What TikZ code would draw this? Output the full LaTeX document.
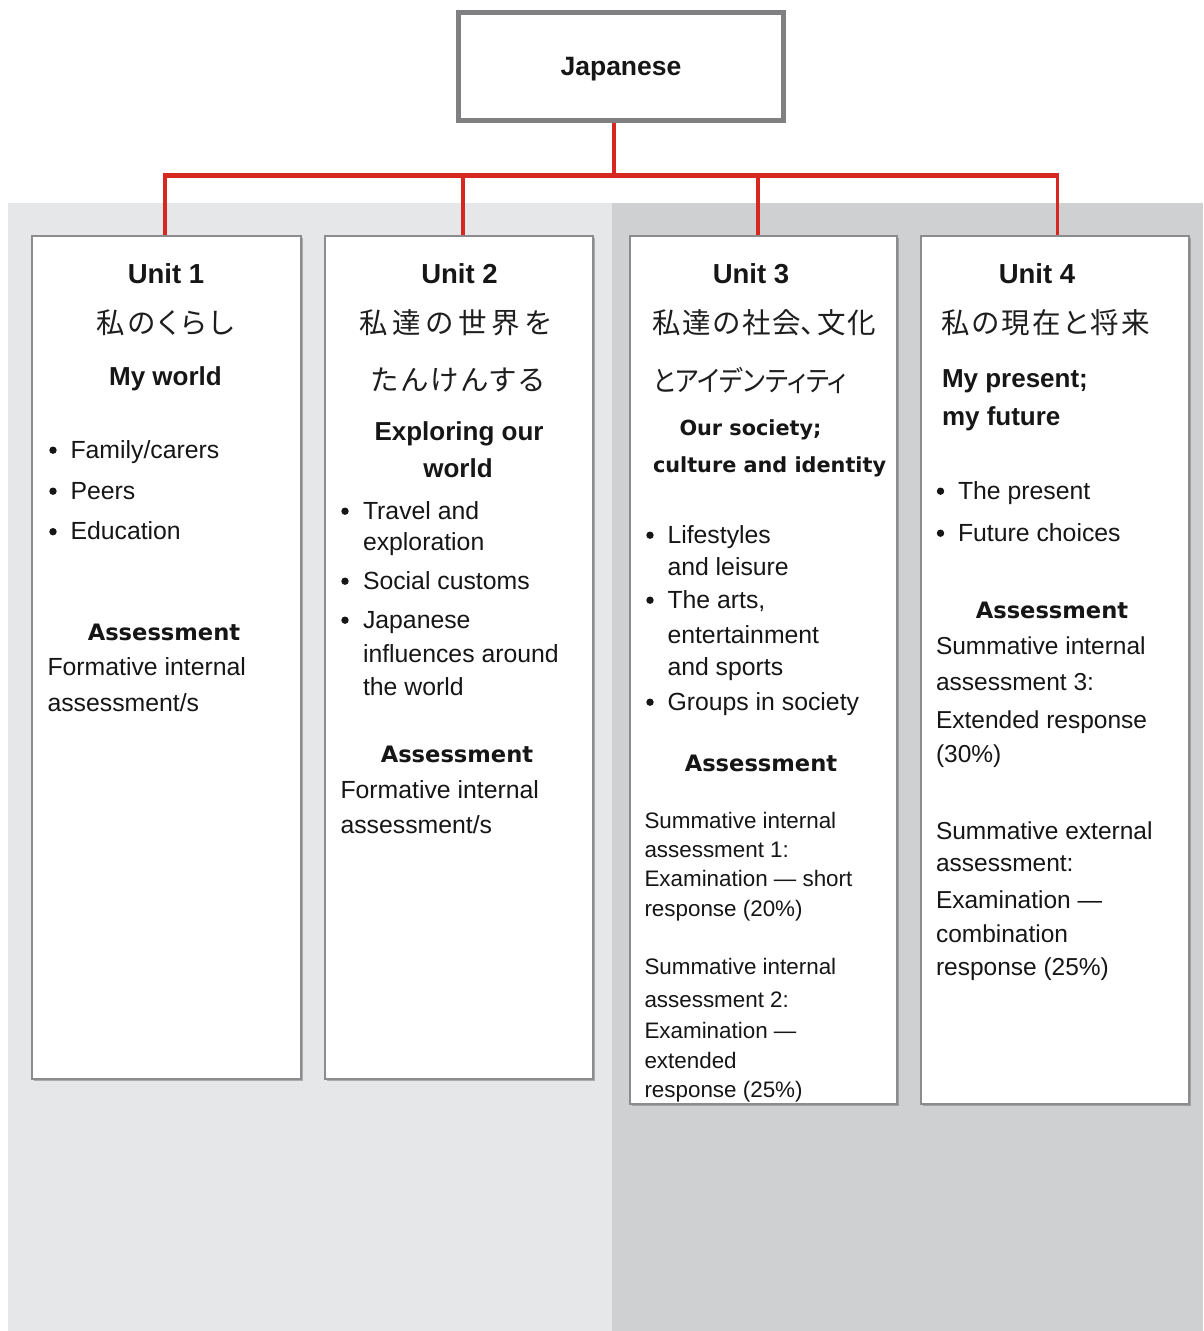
\documentclass[tikz,border=0pt]{standalone}
\usepackage{fontspec}
\usepackage{graphicx}
\usetikzlibrary{shadows}
\setmainfont{Liberation Sans}
\newfontfamily\dvfont{DejaVu Sans}
\newfontfamily\jpfont[RawFeature=+palt]{Noto Sans CJK JP}
\newcommand\setfs[1]{\fontsize{#1}{#1}\selectfont}
\newlength\jfitw
\newcommand\jfit[2]{\settowidth\jfitw{#2}\pgfmathsetmacro\jfitf{#1/\jfitw}\scalebox{\jfitf}[1]{#2}}
\definecolor{bgl}{RGB}{230,231,232}
\definecolor{bgr}{RGB}{207,208,210}
\definecolor{redcol}{RGB}{214,40,32}
\definecolor{topcol}{RGB}{128,128,131}
\definecolor{boxcol}{RGB}{140,140,142}
\definecolor{txtcol}{RGB}{22,22,22}
\definecolor{jpcol}{RGB}{30,30,30}
\tikzset{
  txt/.style={inner sep=0pt, outer sep=0pt, text=txtcol, font=\setfs{24.8}},
  lt/.style={txt, anchor=base west},
  bul/.style={circle, fill=txtcol, inner sep=0pt, minimum size=7.4pt, yshift=7.8pt},
  hd/.style={txt, anchor=base, font=\setfs{27.5}\bfseries},
  sub/.style={txt, font=\setfs{26}\bfseries},
  subdv/.style={txt, anchor=base west, font=\dvfont\setfs{20.8}\bfseries},
  asm/.style={txt, anchor=base, font=\dvfont\setfs{22.6}\bfseries},
  small/.style={txt, anchor=base west, font=\setfs{22.4}},
  mid/.style={txt, anchor=base west, font=\setfs{24.5}},
  jp/.style={txt, anchor=center, text=jpcol, font=\jpfont\setfs{28.5}},
  unitbox/.style={draw=boxcol, line width=1.5pt, fill=white, anchor=north west,
    inner sep=0pt,
    drop shadow={shadow xshift=2.2pt, shadow yshift=-2.5pt, fill=black!60, opacity=0.45}},
  bar/.style={draw=redcol, line width=5pt},
  drop/.style={draw=redcol, line width=3.5pt},
}
\begin{document}
\begin{tikzpicture}[x=1pt,y=-1pt]
\useasboundingbox (0,0) rectangle (1203,1331);
% backgrounds
\fill[bgl] (8,203) rectangle (612,1331);
\fill[bgr] (612,203) rectangle (1203,1331);
% top node
\node[draw=topcol, line width=5pt, fill=white, minimum width=325pt, minimum height=108pt,
      anchor=north west, inner sep=0pt, text depth=0pt, text=txtcol,
      font=\setfs{26.5}\bfseries] (jp) at (456,10) {Japanese};
% unit boxes
\node[unitbox, minimum width=269pt, minimum height=843pt] (u1) at (31,235) {};
\node[unitbox, minimum width=268pt, minimum height=843pt] (u2) at (324,235) {};
\node[unitbox, minimum width=267pt, minimum height=868pt] (u3) at (629,235) {};
\node[unitbox, minimum width=268pt, minimum height=868pt] (u4) at (920,235) {};
% connectors
\coordinate (hub) at (614,175.5);
\coordinate (t1) at (165,175.5);
\coordinate (t2) at (463,175.5);
\coordinate (t3) at (758,175.5);
\coordinate (t4) at (1057.5,175.5);
\draw[drop] (hub |- jp.south) -- (hub);
\draw[bar] ([xshift=-1.75pt]t1) -- ([xshift=1.75pt]t4);
\draw[drop] (t1) -- (t1 |- u1.north);
\draw[drop] (t2) -- (t2 |- u2.north);
\draw[drop] (t3) -- (t3 |- u3.north);
\draw[drop] (t4) -- (t4 |- u4.north);
% ---------- Unit 1
\node[hd] (u1t) at (166,283) {Unit 1};
\node[jp] (u1j) at (165,323) {\hbox to 138pt{私\hfill の\hfill く\hfill ら\hfill し}};
\node[sub, anchor=base] (u1s) at (165.5,385) {My world};
\node[bul] (u1b1) at (53,458) {};
\node[lt] (u1l1) at (70.5,458) {Family/carers};
\node[bul] (u1b2) at (53,499) {};
\node[lt] (u1l2) at (70.5,499) {Peers};
\node[bul] (u1b3) at (53,539.5) {};
\node[lt] (u1l3) at (70.5,539.5) {Education};
\node[asm] (u1h) at (164,640) {Assessment};
\node[lt] (u1f1) at (47.5,675.5) {Formative internal};
\node[lt] (u1f2) at (47.5,711.5) {assessment/s};
% ---------- Unit 2
\node[hd] (u2t) at (459.5,283) {Unit 2};
\node[jp] (u2j1) at (455.5,323) {\hbox to 192pt{私\hfill 達\hfill の\hfill 世\hfill 界\hfill を}};
\node[jp] (u2j2) at (458,380) {\hbox to 173pt{た\hfill ん\hfill け\hfill ん\hfill す\hfill る}};
\node[sub, anchor=base] (u2s1) at (459,440) {Exploring our};
\node[sub, anchor=base] (u2s2) at (458,477) {world};
\node[bul] (u2b1) at (345,519) {};
\node[lt] (u2l1) at (363,519) {Travel and};
\node[lt] (u2l1b) at (363,550) {exploration};
\node[bul] (u2b2) at (345,589) {};
\node[lt] (u2l2) at (363,589) {Social customs};
\node[bul] (u2b3) at (345,628) {};
\node[lt] (u2l3) at (363,628) {Japanese};
\node[lt] (u2l3b) at (363,662) {influences around};
\node[lt] (u2l3c) at (363,695) {the world};
\node[asm] (u2h) at (457,762) {Assessment};
\node[lt] (u2f1) at (340.5,798) {Formative internal};
\node[lt] (u2f2) at (340.5,833) {assessment/s};
% ---------- Unit 3
\node[hd] (u3t) at (751,283) {Unit 3};
\node[jp] (u3j1) at (764,323) {\hbox to 224pt{私\hfill 達\hfill の\hfill 社\hfill 会、\hfill 文\hfill 化}};
\node[jp, anchor=west] (u3j2) at (653,380) {\jfit{194pt}{とアイデンティティ}};
\node[subdv] (u3s1) at (679.5,435) {Our society;};
\node[subdv] (u3s2) at (653,472) {culture and identity};
\node[bul] (u3b1) at (650,543) {};
\node[lt] (u3l1) at (667.5,543) {Lifestyles};
\node[lt] (u3l1b) at (667.5,575) {and leisure};
\node[bul] (u3b2) at (650,608) {};
\node[lt] (u3l2) at (667.5,608) {The arts,};
\node[lt] (u3l2b) at (667.5,643) {entertainment};
\node[lt] (u3l2c) at (667.5,675) {and sports};
\node[bul] (u3b3) at (650,710) {};
\node[lt] (u3l3) at (667.5,710) {Groups in society};
\node[asm] (u3h) at (761,771) {Assessment};
\node[small] (u3a1) at (644.5,828) {Summative internal};
\node[small] (u3a2) at (644.5,857) {assessment 1:};
\node[small] (u3a3) at (644.5,886) {Examination — short};
\node[small] (u3a4) at (644.5,916) {response (20\%)};
\node[small] (u3a5) at (644.5,974) {Summative internal};
\node[small] (u3a6) at (644.5,1007) {assessment 2:};
\node[small] (u3a7) at (644.5,1038) {Examination —};
\node[small] (u3a8) at (644.5,1068) {extended};
\node[small] (u3a9) at (644.5,1097) {response (25\%)};
% ---------- Unit 4
\node[hd] (u4t) at (1037,283) {Unit 4};
\node[jp, anchor=west] (u4j) at (941.5,323) {\hbox to 208pt{私\hfill の\hfill 現\hfill 在\hfill と\hfill 将\hfill 来}};
\node[sub, anchor=base west] (u4s1) at (942,387) {My present;};
\node[sub, anchor=base west] (u4s2) at (942,425) {my future};
\node[bul] (u4b1) at (940.5,499) {};
\node[lt] (u4l1) at (958,499) {The present};
\node[bul] (u4b2) at (940.5,541) {};
\node[lt] (u4l2) at (958,541) {Future choices};
\node[asm] (u4h) at (1052,618) {Assessment};
\node[mid] (u4a1) at (936,654) {Summative internal};
\node[mid] (u4a2) at (936,690) {assessment 3:};
\node[mid] (u4a3) at (936,728) {Extended response};
\node[mid] (u4a4) at (936,762) {(30\%)};
\node[mid] (u4a5) at (936,839) {Summative external};
\node[mid] (u4a6) at (936,871) {assessment:};
\node[mid] (u4a7) at (936,908) {Examination —};
\node[mid] (u4a8) at (936,942) {combination};
\node[mid] (u4a9) at (936,975) {response (25\%)};
\end{tikzpicture}
\end{document}
